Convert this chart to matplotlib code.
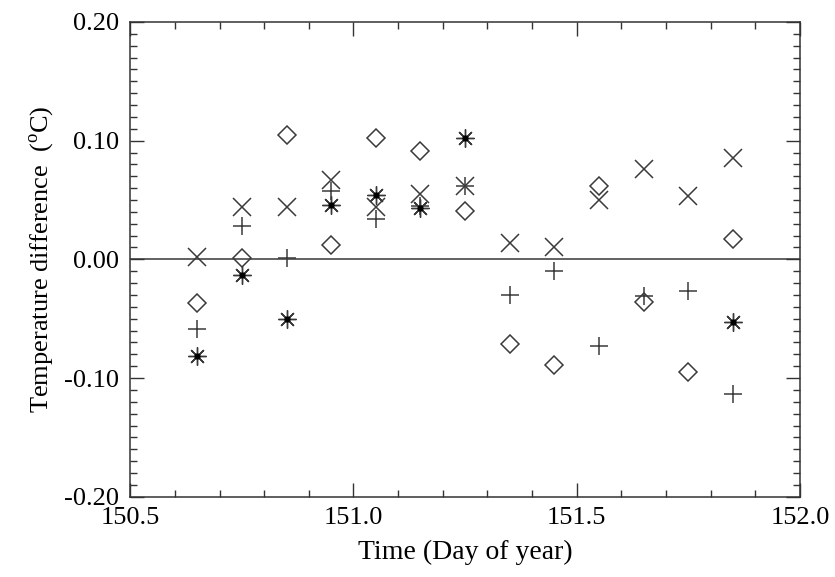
import matplotlib.pyplot as plt
import numpy as np

# 时间 (Day of year)
days = [150.65, 150.75, 150.85, 150.95, 151.05, 151.15, 151.25,
        151.35, 151.45, 151.55, 151.65, 151.75, 151.85]

# 各组温差 (°C)
diff_cross = [0.002, 0.044, 0.044, 0.067, 0.044, 0.055, 0.062,
              0.014, 0.010, 0.050, 0.076, 0.053, 0.085]
diff_plus = [-0.059, 0.028, 0.001, 0.058, 0.034, 0.045, 0.062,
             -0.030, -0.010, -0.073, -0.031, -0.027, -0.113]
diff_diamond = [-0.037, 0.001, 0.105, 0.012, 0.102, 0.091, 0.041,
                -0.071, -0.089, 0.062, -0.036, -0.095, 0.017]
diff_star = [-0.081, -0.013, -0.050, 0.046, 0.054, 0.043, 0.102,
             np.nan, np.nan, np.nan, np.nan, np.nan, -0.053]

plt.rcParams['font.family'] = ['Liberation Serif', 'DejaVu Serif']
plt.rcParams['mathtext.fontset'] = 'custom'
plt.rcParams['mathtext.rm'] = 'Liberation Serif'

fig = plt.figure(figsize=(8.35, 5.77), dpi=100)
ax = fig.add_axes([0.156, 0.139, 0.802, 0.823])

ax.axhline(0, color='#555555', lw=1.3, zorder=1)

style = dict(linestyle='none', color='#3a3a3a', markerfacecolor='none')
ax.plot(days, diff_cross, marker='x', markersize=13.5, markeredgewidth=1.1, **style)
ax.plot(days, diff_plus, marker='+', markersize=13, markeredgewidth=1.1, **style)
ax.plot(days, diff_diamond, marker='D', markersize=9.5, markeredgewidth=1.1, **style)
ax.plot(days, diff_star, marker=(8, 2, 0), markersize=13, markeredgewidth=1.0, **style)
ax.plot(days, diff_star, marker='o', markersize=3.5, linestyle='none', color='black')

ax.set_xlim(150.5, 152.0)
ax.set_ylim(-0.2, 0.2)
ax.set_xticks([150.5, 151.0, 151.5, 152.0])
ax.set_xticks(np.arange(150.5, 152.0, 0.1), minor=True)
ax.set_yticks([-0.2, -0.1, 0.0, 0.1, 0.2])
ax.set_yticks(np.arange(-0.2, 0.2, 0.01), minor=True)
ax.xaxis.set_major_formatter(plt.FormatStrFormatter('%.1f'))
ax.yaxis.set_major_formatter(plt.FormatStrFormatter('%.2f'))

ax.tick_params(which='both', direction='in', top=True, right=True,
               labelsize=19, color='#333333')
ax.tick_params(axis='y', pad=8)
ax.tick_params(axis='x', pad=7)
ax.tick_params(which='major', length=10, width=1)
ax.tick_params(which='minor', length=5, width=1)
for s in ax.spines.values():
    s.set_linewidth(1.1)
    s.set_color('#333333')

ax.set_xlabel('Time (Day of year)', fontsize=20, labelpad=8)
ax.set_ylabel(r'Temperature difference  ($^{\mathrm{o}}$C)', fontsize=19, labelpad=6)

plt.savefig('out.png', dpi=100)
